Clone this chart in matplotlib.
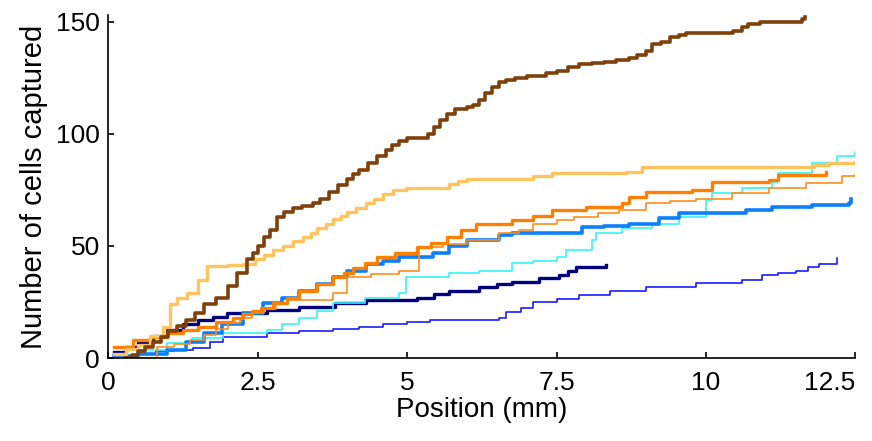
import numpy as np
import matplotlib.pyplot as plt

# step curves: position (mm), cells captured
brown_x = [0.3, 0.4, 0.5, 0.62, 0.75, 0.88, 1.0, 1.15, 1.3, 1.45, 1.6, 1.8, 2.0, 2.15, 2.32, 2.42, 2.5, 2.6, 2.7, 2.82, 2.95, 3.1, 3.25, 3.42, 3.55, 3.7, 3.85, 4.0, 4.1, 4.2, 4.35, 4.5, 4.65, 4.75, 4.87, 5.0, 5.26, 5.35, 5.45, 5.55, 5.66, 5.8, 6.0, 6.1, 6.2, 6.3, 6.42, 6.54, 6.65, 6.8, 7.0, 7.33, 7.5, 7.7, 7.88, 8.1, 8.3, 8.5, 8.71, 8.85, 9.0, 9.1, 9.25, 9.4, 9.55, 9.67, 10.33, 10.45, 10.6, 10.7, 10.9, 11.6, 11.65]
brown_y = [0, 1.5, 3, 5, 7, 9.5, 12, 14.5, 17, 20, 24, 27, 32, 38, 44, 47, 50, 54, 57, 63, 65, 67, 68, 69, 71, 74, 77, 80, 82, 84, 87, 90, 93, 95, 97, 98, 98, 100, 103, 106, 109, 111, 112, 113, 115, 118, 121, 123, 124, 125, 126, 127, 128, 130, 131, 131.5, 132, 133, 134, 135, 137, 140, 141, 143, 144, 145, 145, 146, 147.5, 149, 150, 151, 152]

gold_x = [0.1, 0.3, 0.5, 0.7, 0.92, 1.03, 1.15, 1.32, 1.5, 1.65, 2.0, 2.25, 2.45, 2.6, 2.75, 2.92, 3.1, 3.26, 3.4, 3.5, 3.65, 3.76, 3.9, 4.0, 4.15, 4.32, 4.45, 4.6, 4.76, 4.99, 5.54, 5.7, 5.85, 6.0, 6.54, 7.1, 7.43, 8.66, 8.93, 11.5, 11.8, 12.05, 12.5]
gold_y = [2, 4, 6, 10, 14, 24, 27, 29, 35, 41, 41.5, 42, 44, 46, 48, 50, 52, 54, 56, 58, 60, 62, 63.5, 65, 67, 69, 71, 73, 75, 76, 76, 77.5, 79, 80, 80, 81, 82.5, 83, 85, 85, 86, 87, 87.5]

orange_x = [0.1, 0.42, 0.7, 0.98, 1.25, 1.5, 1.8, 2.09, 2.25, 2.4, 2.55, 2.75, 3.0, 3.2, 3.5, 3.76, 3.95, 4.1, 4.3, 4.49, 4.8, 5.16, 5.4, 5.66, 5.9, 6.16, 6.76, 7.1, 7.43, 8.0, 8.6, 8.71, 9.0, 9.77, 10.1, 11.05, 11.2, 12.0]
orange_y = [5, 8, 9.5, 11, 12.5, 14, 16, 18, 19.5, 21, 22.5, 24.5, 27, 30, 33, 36, 38, 40, 42.5, 45, 47, 49.5, 51.5, 54, 57, 60, 61.6, 63.5, 66, 67.5, 69, 72, 74, 75, 78.6, 79.5, 81.7, 83]

orange_thin_x = [0.5, 0.82, 1.1, 1.37, 1.6, 1.8, 2.0, 2.2, 2.4, 2.6, 2.8, 2.99, 3.76, 3.99, 4.4, 4.87, 5.2, 5.6, 6.0, 6.54, 6.88, 7.1, 7.5, 7.8, 8.2, 8.55, 9.0, 9.4, 9.83, 10.43, 11.05, 11.67, 12.27, 12.5]
orange_thin_y = [0, 5, 6.5, 8, 10.5, 13, 15.5, 18, 20, 22, 24, 26, 29, 36, 37.5, 39, 49.5, 51, 52.7, 56, 57, 60, 61.5, 63, 64.5, 66, 69, 70, 71, 73.6, 75.9, 78, 81, 81.7]

azure_x = [0.1, 0.5, 0.98, 1.3, 1.6, 1.9, 2.25, 2.59, 2.9, 3.2, 3.5, 3.76, 4.0, 4.32, 4.6, 4.87, 5.43, 5.7, 6.0, 6.54, 6.76, 7.83, 7.93, 8.3, 8.71, 9.21, 9.55, 10.55, 10.67, 11.1, 11.77, 12.39, 12.42]
azure_y = [1, 2, 3.6, 7, 11, 15, 20, 24.5, 27, 30, 33, 36, 39, 42, 43.5, 45, 46.8, 50, 52.7, 55, 55.8, 55.8, 58.5, 59, 60, 62.5, 64.7, 64.7, 66, 67.4, 68.3, 69, 71]

cyan_x = [0.53, 0.98, 1.4, 1.92, 2.65, 2.9, 3.2, 3.5, 3.76, 4.3, 4.87, 4.99, 5.7, 6.2, 6.76, 7.1, 7.5, 7.66, 8.1, 8.16, 8.6, 9.1, 9.55, 10.0, 10.1, 10.6, 11.1, 11.2, 11.77, 12.2, 12.5]
cyan_y = [3.6, 6.7, 9, 11, 12.5, 15, 18, 21, 24.5, 27, 29, 36, 38, 39, 42.4, 43.5, 45, 48, 52.7, 55.8, 58, 60, 63, 70.5, 73.6, 76, 78.6, 82.6, 87, 90, 92]

navy_x = [0.1, 0.3, 0.5, 0.75, 0.98, 1.25, 1.5, 1.75, 1.99, 2.65, 3.2, 3.8, 4.32, 5.16, 5.45, 5.7, 6.2, 6.5, 6.76, 7.2, 7.55, 7.7, 7.83, 8.33]
navy_y = [2.7, 5, 7, 10, 12.5, 15, 17, 18.5, 20, 21.4, 22.8, 24.5, 26, 27, 28.5, 30, 31.7, 33, 34, 35.5, 37, 39, 40.6, 41.5]

blue_x = [0.1, 0.5, 0.8, 1.1, 1.42, 1.7, 1.92, 2.65, 3.2, 3.76, 4.2, 4.6, 5.0, 5.38, 6.54, 6.66, 6.9, 7.1, 7.5, 7.88, 8.4, 9.0, 9.83, 10.6, 10.93, 11.2, 11.5, 11.7, 11.89, 12.19]
blue_y = [1, 2, 3, 3.8, 4.5, 7, 9.4, 11, 12, 13, 14, 15, 16, 17, 17.8, 20.5, 22.5, 25, 26.5, 28, 30, 31.7, 33.5, 34.8, 37, 38, 39, 40.5, 42, 44.6]

xticks = [0, 2.5, 5, 7.5, 10, 12.5]
xtick_labels = ['0', '2.5', '5', '7.5', '10', '12.5']
yticks = [0, 50, 100, 150]

plt.rcParams['font.family'] = ['Liberation Sans', 'DejaVu Sans']

fig = plt.figure(figsize=(8.72, 4.41), dpi=100)
ax = fig.add_axes([0.124, 0.188, 0.857, 0.778])

series = [
    (blue_x, blue_y, '#1a1aff', 1.2),
    (navy_x, navy_y, '#00007f', 2.4),
    (cyan_x, cyan_y, '#33f5f5', 1.2),
    (azure_x, azure_y, '#0a80ff', 2.6),
    (orange_thin_x, orange_thin_y, '#ff8c1a', 1.2),
    (orange_x, orange_y, '#ff7f00', 2.4),
    (gold_x, gold_y, '#ffc45e', 2.4),
    (brown_x, brown_y, '#7f400a', 2.6),
]
for xs, ys, col, lw in series:
    ax.plot(xs, ys, drawstyle='steps-post', color=col, lw=lw)

ax.set_xlim(0, 12.5)
ax.set_ylim(0, 153)
ax.spines['top'].set_visible(False)
ax.spines['right'].set_visible(False)
for s in ['left', 'bottom']:
    ax.spines[s].set_linewidth(1.2)
ax.tick_params(direction='in', length=4.5, width=1.2, labelsize=19)
ax.set_xticks(xticks)
ax.set_xticklabels(xtick_labels)
ax.get_xticklabels()[-1].set_horizontalalignment('right')
ax.set_yticks(yticks)
ax.tick_params(axis='x', pad=9)
ax.tick_params(axis='y', pad=6)
ax.set_xlabel('Position (mm)', fontsize=20, labelpad=2)
ax.set_ylabel('Number of cells captured', fontsize=21, labelpad=6)

fig.savefig('out.png', dpi=100)
